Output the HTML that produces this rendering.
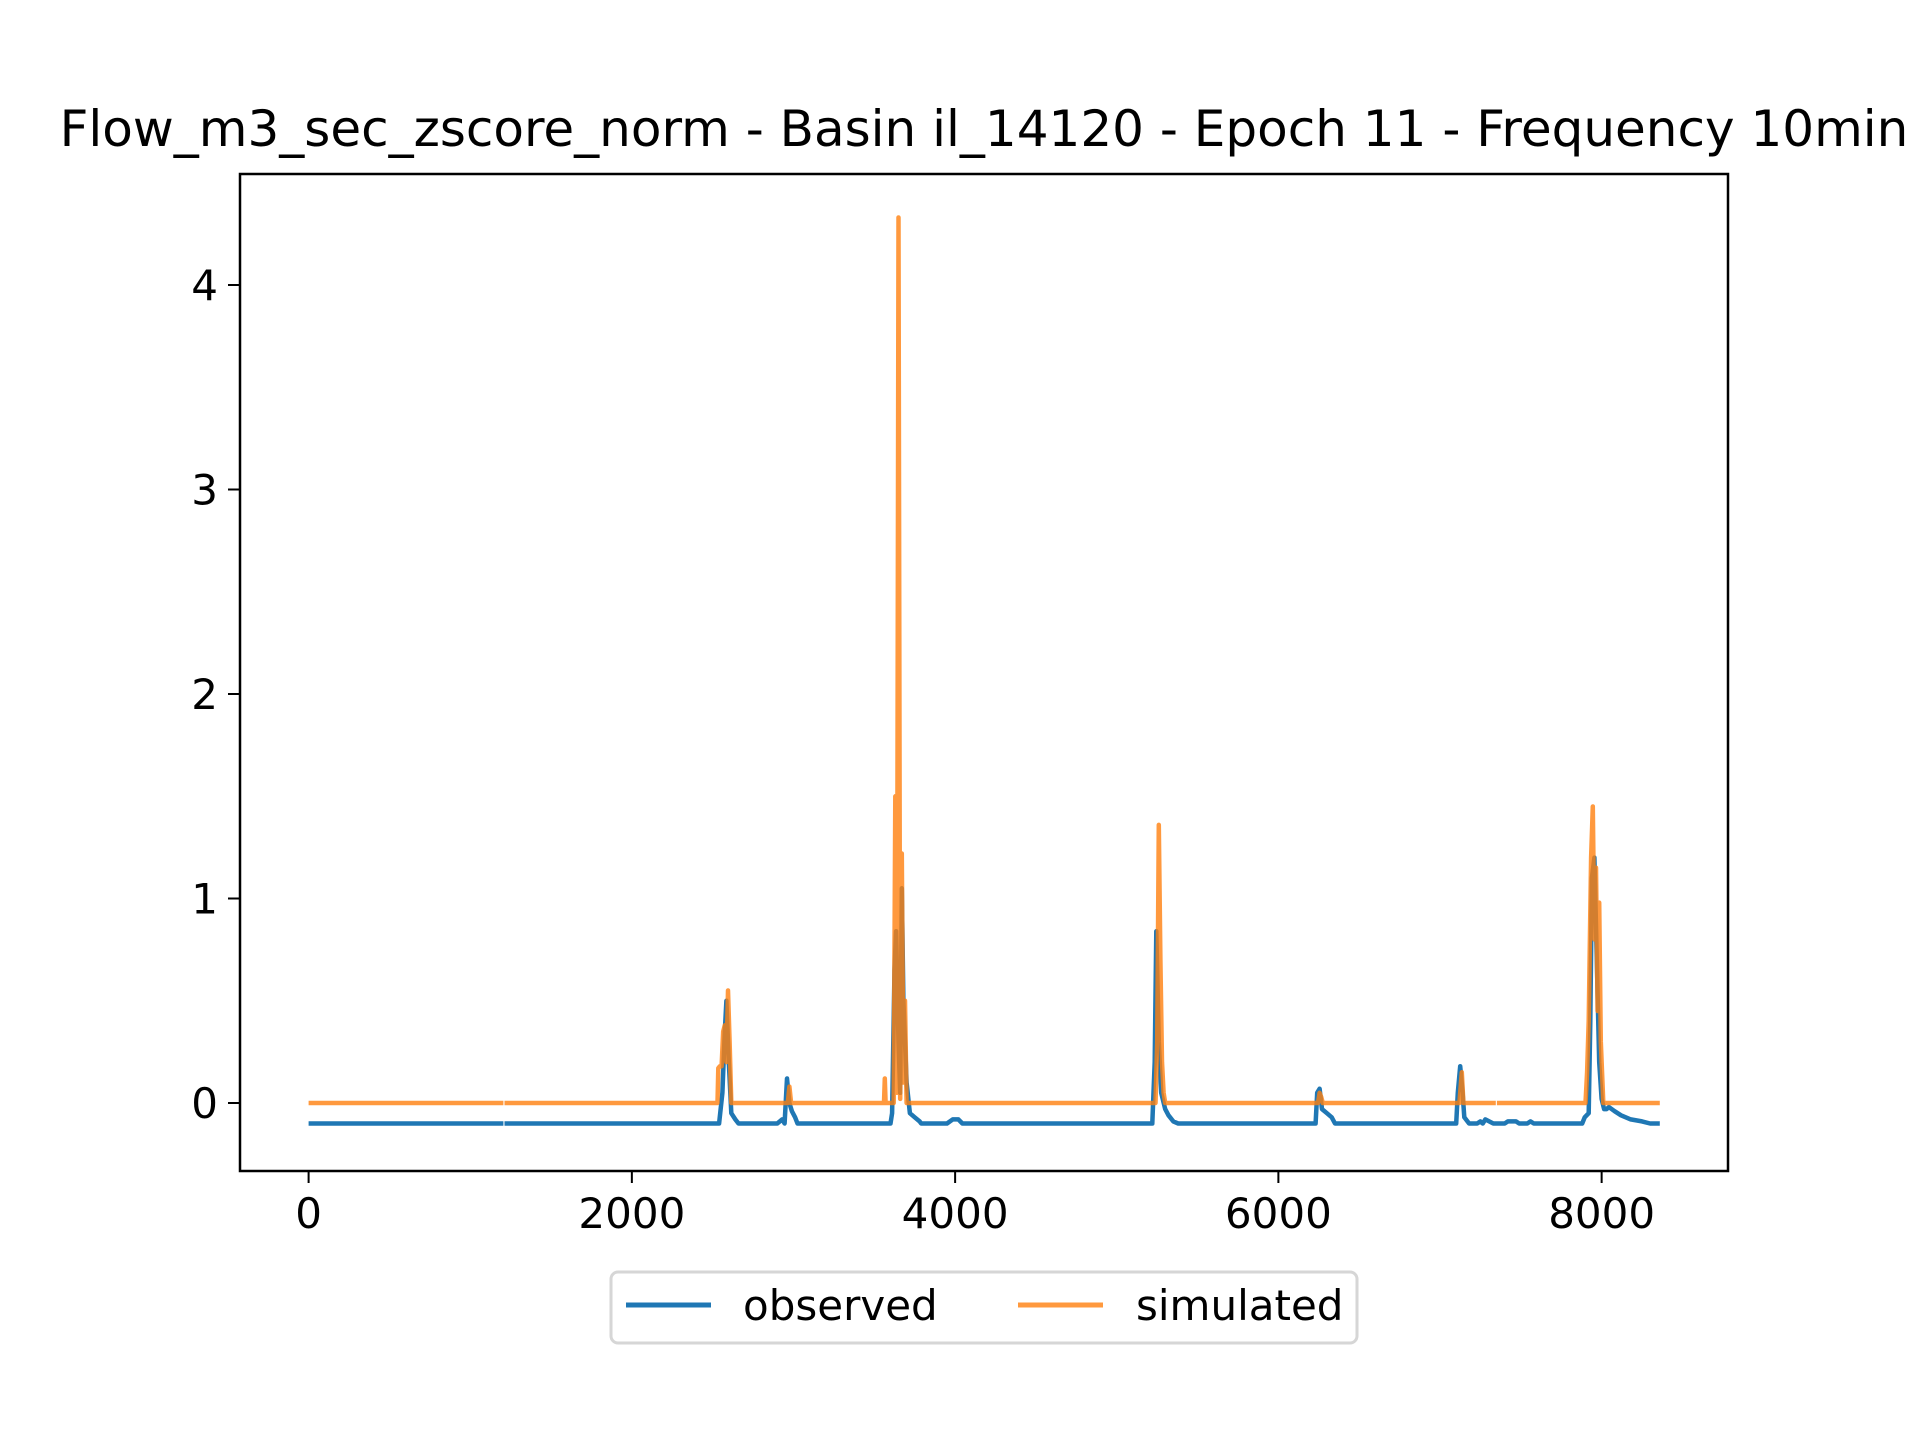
<!DOCTYPE html>
<html><head><meta charset="utf-8"><style>
html,body{margin:0;padding:0;background:#fff;}
svg{display:block;font-family:"DejaVu Sans","Liberation Sans",sans-serif;}
</style></head><body>
<svg id="chart" width="1920" height="1440" viewBox="0 0 1920 1440">
<rect width="1920" height="1440" fill="#fff"/>
<text x="984" y="146" font-size="50" text-anchor="middle">Flow_m3_sec_zscore_norm - Basin il_14120 - Epoch 11 - Frequency 10min</text>
<g id="plot"></g>
<rect x="240" y="174" width="1488" height="997" fill="none" stroke="#000" stroke-width="2.5"/>
<g id="xt"></g>
<g id="yt"></g>
<g>
<rect x="611" y="1272" width="746" height="71" rx="7" fill="#fff" stroke="#d6d6d6" stroke-width="3"/>
<line x1="626" y1="1305" x2="711" y2="1305" stroke="#1f77b4" stroke-width="5"/>
<text x="743" y="1320" font-size="42">observed</text>
<line x1="1018" y1="1305" x2="1103" y2="1305" stroke="#ff7f0e" stroke-opacity="0.8" stroke-width="5"/>
<text x="1136" y="1320" font-size="42">simulated</text>
</g>
</svg>
<script>
const xTicks=[0,2000,4000,6000,8000];
const yTicks=[0,1,2,3,4];
const obsX=[0,1205,null,1212,2540,2560,2575,2585,2600,2615,2640,2660,2900,2930,2945,2960,2975,2990,3010,3025,3600,3610,3625,3635,3650,3660,3670,3680,3700,3720,3750,3780,3790,3950,3985,4020,4045,5220,5235,5245,5260,5275,5300,5320,5350,5380,6230,6240,6255,6270,6300,6330,6350,7100,7110,7125,7140,7150,7180,7230,7250,7265,7280,7330,7400,7420,7470,7490,7540,7560,7580,7880,7895,7920,7930,7940,7955,7970,7985,8000,8015,8030,8045,8080,8120,8180,8250,8300,8360];
const obsY=[-0.1,-0.1,null,-0.1,-0.1,0.05,0.35,0.5,0.2,-0.05,-0.08,-0.1,-0.1,-0.08,-0.1,0.12,0.0,-0.04,-0.07,-0.1,-0.1,-0.05,0.65,0.84,0.3,0.05,1.05,0.5,0.1,-0.05,-0.07,-0.09,-0.1,-0.1,-0.08,-0.08,-0.1,-0.1,0.2,0.84,0.3,0.05,-0.03,-0.06,-0.09,-0.1,-0.1,0.05,0.07,-0.03,-0.05,-0.07,-0.1,-0.1,0.05,0.18,0.05,-0.07,-0.1,-0.1,-0.09,-0.1,-0.08,-0.1,-0.1,-0.09,-0.09,-0.1,-0.1,-0.09,-0.1,-0.1,-0.07,-0.05,0.4,1.1,1.2,0.7,0.2,0.02,-0.03,-0.03,-0.02,-0.04,-0.06,-0.08,-0.09,-0.1,-0.1];
const simX=[0,1205,null,1212,2530,2535,2545,2555,2565,2575,2585,2595,2605,2615,2965,2975,2985,3560,3565,3570,3620,3630,3640,3650,3660,3670,3680,3690,3700,5240,5250,5260,5270,5280,5290,5300,6245,6255,6265,6275,7120,7135,7145,7345,null,7352,7900,7910,7920,7935,7945,7955,7965,7975,7985,7995,8010,8360];
const simY=[0,0,null,0,0,0.17,0.18,0.18,0.35,0.38,0.2,0.55,0.3,0,0,0.08,0,0,0.12,0,0,1.5,0.05,4.33,0.02,1.22,0.1,0.5,0,0,0.3,1.36,0.7,0.2,0.05,0,0,0.05,0.03,0,0,0.15,0,0,null,0,0,0.15,0.4,1.2,1.45,0.8,1.15,0.45,0.98,0.3,0,0];
const X0=240,X1=1728,Y0=174,Y1=1171;
function sx(v){return 308.6+v*0.16163;}
function sy(v){return 1103-v*204.5;}
const NS="http://www.w3.org/2000/svg";
function mk(t,a,p){const e=document.createElementNS(NS,t);for(const k in a)e.setAttribute(k,a[k]);p.appendChild(e);return e;}
function pathD(xs,ys){let d="",pen=false;for(let i=0;i<xs.length;i++){if(xs[i]===null||ys[i]===null){pen=false;continue;}d+=(pen?"L":"M")+sx(xs[i]).toFixed(1)+","+sy(ys[i]).toFixed(1);pen=true;}return d;}
const plot=document.getElementById("plot");
const po=mk("path",{d:pathD(obsX,obsY),fill:"none",stroke:"#1f77b4","stroke-width":4.5,"stroke-linejoin":"round"},plot);


const ps=mk("path",{d:pathD(simX,simY),fill:"none",stroke:"#ff7f0e","stroke-opacity":0.8,"stroke-width":4.5,"stroke-linejoin":"round"},plot);


const xt=document.getElementById("xt");
xTicks.forEach(v=>{const x=sx(v);
const l=mk("line",{x1:x,x2:x,y1:Y1,y2:Y1+12,stroke:"#000","stroke-width":2},xt);


const t=mk("text",{x:x,y:Y1+57,"font-size":42,"text-anchor":"middle"},xt);t.textContent=v;

});
const yt=document.getElementById("yt");
yTicks.forEach(v=>{const y=sy(v);
const l=mk("line",{x1:X0-12,x2:X0,y1:y,y2:y,stroke:"#000","stroke-width":2},yt);


const t=mk("text",{x:X0-22,y:y+15,"font-size":42,"text-anchor":"end"},yt);t.textContent=v;

});
</script>
</body></html>
